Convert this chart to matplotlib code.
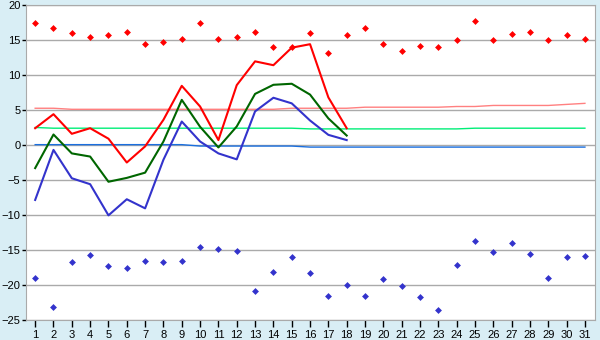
import numpy as np
import matplotlib.pyplot as plt

days = list(range(1, 32))

# daily maximum / minimum points (whole month)
max_pts = [17.4, 16.7, 15.95, 15.5, 15.7, 16.1, 14.4, 14.7, 15.1, 17.5,
           15.1, 15.5, 16.1, 13.95, 14.0, 15.95, 13.2, 15.7, 16.7, 14.5,
           13.4, 14.2, 13.95, 14.95, 17.7, 14.95, 15.8, 16.1, 14.95, 15.7, 15.1]
min_pts = [-19.05, -23.2, -16.75, -15.75, -17.3, -17.6, -16.6, -16.75, -16.5, -14.6,
           -14.9, -15.2, -20.9, -18.2, -16.05, -18.3, -21.6, -20.05, -21.6, -19.2,
           -20.2, -21.75, -23.6, -17.2, -13.75, -15.3, -14.05, -15.6, -19.05, -16.05, -15.9]

# daily lines (first 18 days)
line_days = days[:18]
t_max = [2.4, 4.4, 1.6, 2.4, 0.9, -2.5, -0.2, 3.6, 8.45, 5.5,
         0.7, 8.55, 11.95, 11.4, 13.9, 14.4, 6.8, 2.4]
t_mean = [-3.3, 1.5, -1.2, -1.65, -5.25, -4.7, -3.95, 0.5, 6.45, 2.6,
          -0.35, 2.65, 7.3, 8.6, 8.75, 7.2, 3.8, 1.35]
t_min = [-7.85, -0.7, -4.75, -5.6, -10.05, -7.75, -9.05, -2.1, 3.35, 0.5,
         -1.2, -2.05, 4.8, 6.75, 5.95, 3.5, 1.45, 0.7]

# long-term normals
norm_max = [5.25, 5.25, 5.1, 5.1, 5.1, 5.1, 5.1, 5.1, 5.1, 5.1,
            5.1, 5.1, 5.1, 5.1, 5.25, 5.25, 5.25, 5.25, 5.4, 5.4,
            5.4, 5.4, 5.4, 5.5, 5.5, 5.65, 5.65, 5.65, 5.65, 5.8, 5.95]
norm_mean = [2.5, 2.4, 2.4, 2.4, 2.4, 2.4, 2.4, 2.4, 2.4, 2.4,
             2.4, 2.4, 2.4, 2.4, 2.4, 2.3, 2.3, 2.3, 2.3, 2.3,
             2.3, 2.3, 2.3, 2.3, 2.4, 2.4, 2.4, 2.4, 2.4, 2.4, 2.4]
norm_min = [0.05, 0.05, 0.05, 0.05, 0.05, 0.05, 0.05, 0.05, 0.05, -0.15,
            -0.15, -0.15, -0.15, -0.15, -0.15, -0.3, -0.3, -0.3, -0.3, -0.3,
            -0.3, -0.3, -0.3, -0.3, -0.3, -0.3, -0.3, -0.3, -0.3, -0.3, -0.3]

plt.rcParams['font.family'] = ['Liberation Sans', 'DejaVu Sans']

bg = "#d9eef5"
fig = plt.figure(figsize=(6, 3.4), dpi=100, facecolor=bg)
ax = fig.add_axes([26/600, 1-320/340, 569/600, 315/340])
ax.set_facecolor("white")

ax.plot(days, norm_max, color="#ff8080", lw=1)
ax.plot(days, norm_mean, color="#00ee77", lw=1)
ax.plot(days, norm_min, color="#1a6fdf", lw=1)

ax.plot(line_days, t_max, color="#ff0000", lw=1.5)
ax.plot(line_days, t_mean, color="#006600", lw=1.5)
ax.plot(line_days, t_min, color="#3333cc", lw=1.5)

ax.plot(days, max_pts, "D", color="#ff0000", ms=3.5, mew=0, ls="none")
ax.plot(days, min_pts, "D", color="#3333cc", ms=3.5, mew=0, ls="none")

ax.set_xlim(0.5, 31.55)
ax.set_ylim(-25, 20)
ax.set_xticks(days)
ax.set_yticks(range(-25, 21, 5))
ax.yaxis.grid(True, color="#aaaaaa", lw=1)
ax.set_axisbelow(True)
for s in ax.spines.values():
    s.set_color("#aaaaaa")
ax.tick_params(axis="both", labelsize=8, color="#000000", width=1)
ax.tick_params(axis="x", length=5, pad=2)
ax.tick_params(axis="y", length=3, pad=1)

fig.savefig("out.png", dpi=100, facecolor=bg)
